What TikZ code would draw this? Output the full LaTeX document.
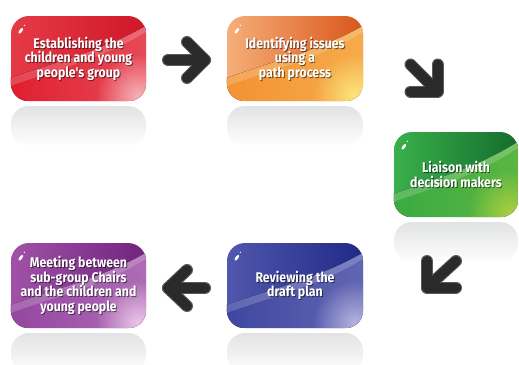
\documentclass[tikz,border=0pt]{standalone}
\usepackage{fontspec}
\newfontfamily\boxfont{Fira Sans}[FakeStretch=0.88]
\usetikzlibrary{calc,fadings}
\tikzfading[name=glowfade, inner color=transparent!0, outer color=transparent!100]
\tikzfading[name=fadedown, top color=transparent!0, bottom color=transparent!100]
% colours: dark (top right), light (top left), band (lower), highlight (bottom right)
\definecolor{rD}{HTML}{CF1728}\definecolor{rL}{HTML}{E63A47}\definecolor{rB}{HTML}{E01E2E}\definecolor{rH}{HTML}{F7B0B8}
\definecolor{oD}{HTML}{D9561C}\definecolor{oL}{HTML}{F6AE78}\definecolor{oB}{HTML}{F39234}\definecolor{oH}{HTML}{FDE57C}
\definecolor{gD}{HTML}{146C2E}\definecolor{gL}{HTML}{3AB04A}\definecolor{gB}{HTML}{3AAA42}\definecolor{gH}{HTML}{A8D040}
\definecolor{bD}{HTML}{212987}\definecolor{bL}{HTML}{5057AC}\definecolor{bB}{HTML}{3E46A0}\definecolor{bH}{HTML}{B4B2DE}
\definecolor{pD}{HTML}{70247E}\definecolor{pL}{HTML}{A052A8}\definecolor{pB}{HTML}{9446A0}\definecolor{pH}{HTML}{EAC6E8}
\definecolor{arrdark}{HTML}{2A2A2A}\definecolor{arredge}{HTML}{5A5A5A}
\definecolor{reflgray}{HTML}{E2E3E4}
\tikzset{
  box/.style={minimum height=85pt, rounded corners=18pt, inner sep=0pt},
  txtfont/.style={font=\boxfont\bfseries\fontsize{14}{14.5}\selectfont, align=center},
  boxtext/.style={txtfont, text=white},
  boxshadow/.style={txtfont, text=black, text opacity=0.55},
  refl/.style={rounded corners=18pt, fill=reflgray, path fading=fadedown},
  arr/.style={line width=12pt, line cap=round, line join=round, draw=arredge},
  arrin/.style={line width=10pt, line cap=round, line join=round, draw=arrdark},
}
% name, cx, cy, width, dark, light, band, highlight, text
\newcommand\gbox[9]{%
  \path (#2,#3) ++(-#4/2,42.5) ++(0,5) coordinate (#1r);
  \fill[refl] (#1r) rectangle ++(#4,40);
  \node[box, minimum width=#4pt, left color=#6, right color=#5] (#1) at (#2,#3) {};
  \begin{scope}
    \clip[rounded corners=18pt] (#1.south west) rectangle (#1.north east);
    \begin{scope}[shift={(#1.north west)}]
      \fill[left color=#7, right color=#7!70!#8]
        (0,62) .. controls (45,46) and (#4*0.7,34) .. (#4,10) -- (#4,85) -- (0,85) -- cycle;
      \fill[#8, path fading=glowfade] (#4-8,80) circle [radius=42pt];
      \fill[white, fill opacity=0.18] (0,62) .. controls (45,46) and (#4*0.7,34) .. (#4,10)
        -- (#4,16) .. controls (#4*0.7,42) and (45,54) .. (0,70) -- cycle;
      \fill[white] (10,15) ellipse [x radius=1.5pt, y radius=3.3pt, rotate=-35];
      \fill[white] (13.5,9.5) circle [radius=0.7pt];
    \end{scope}
  \end{scope}
  \node[boxshadow, xshift=0.9pt, yshift=-0.9pt] (#1s) at (#1) {#9};
  \node[boxtext] (#1t) at (#1) {#9};
}
\begin{document}
\begin{tikzpicture}[x=1pt,y=-1pt]
\useasboundingbox[fill=white] (0,0) rectangle (519,364);
\gbox{b1}{78.5}{58.5}{135}{rD}{rL}{rB}{rH}{Establishing the\\children and young\\people's group}
\gbox{b2}{295}{58.5}{136}{oD}{oL}{oB}{oH}{Identifying issues\\using a\\path process}
\gbox{b3}{456}{174.5}{124}{gD}{gL}{gB}{gH}{Liaison with\\decision makers}
\gbox{b5}{295}{285.5}{136}{bD}{bL}{bB}{bH}{Reviewing the\\draft plan}
\gbox{b4}{78.5}{285.5}{135}{pD}{pL}{pB}{pH}{Meeting between\\sub-group Chairs\\and the children and\\young people}
% arrows
\coordinate (a1s) at (168,60); \coordinate (a1t) at (205,60);
\coordinate (a1u) at (187,42); \coordinate (a1d) at (187,78);
\foreach \s in {arr,arrin}{
  \draw[\s] (a1s) -- (a1t);
  \draw[\s] (a1u) -- (a1t) -- (a1d);
}
\coordinate (a2s) at (410.5,64.5); \coordinate (a2t) at (437.5,91.5);
\coordinate (a2u) at (437.5,64.5); \coordinate (a2l) at (410.5,91.5);
\foreach \s in {arr,arrin}{
  \draw[\s] (a2s) -- (a2t);
  \draw[\s] (a2u) -- (a2t) -- (a2l);
}
\coordinate (a3s) at (456,261); \coordinate (a3t) at (427,287.5);
\coordinate (a3u) at (427,261); \coordinate (a3r) at (456,287.5);
\foreach \s in {arr,arrin}{
  \draw[\s] (a3s) -- (a3t);
  \draw[\s] (a3u) -- (a3t) -- (a3r);
}
\coordinate (a4s) at (205,288); \coordinate (a4t) at (168,288);
\coordinate (a4u) at (187,270); \coordinate (a4d) at (187,306);
\foreach \s in {arr,arrin}{
  \draw[\s] (a4s) -- (a4t);
  \draw[\s] (a4u) -- (a4t) -- (a4d);
}
\end{tikzpicture}
\end{document}
